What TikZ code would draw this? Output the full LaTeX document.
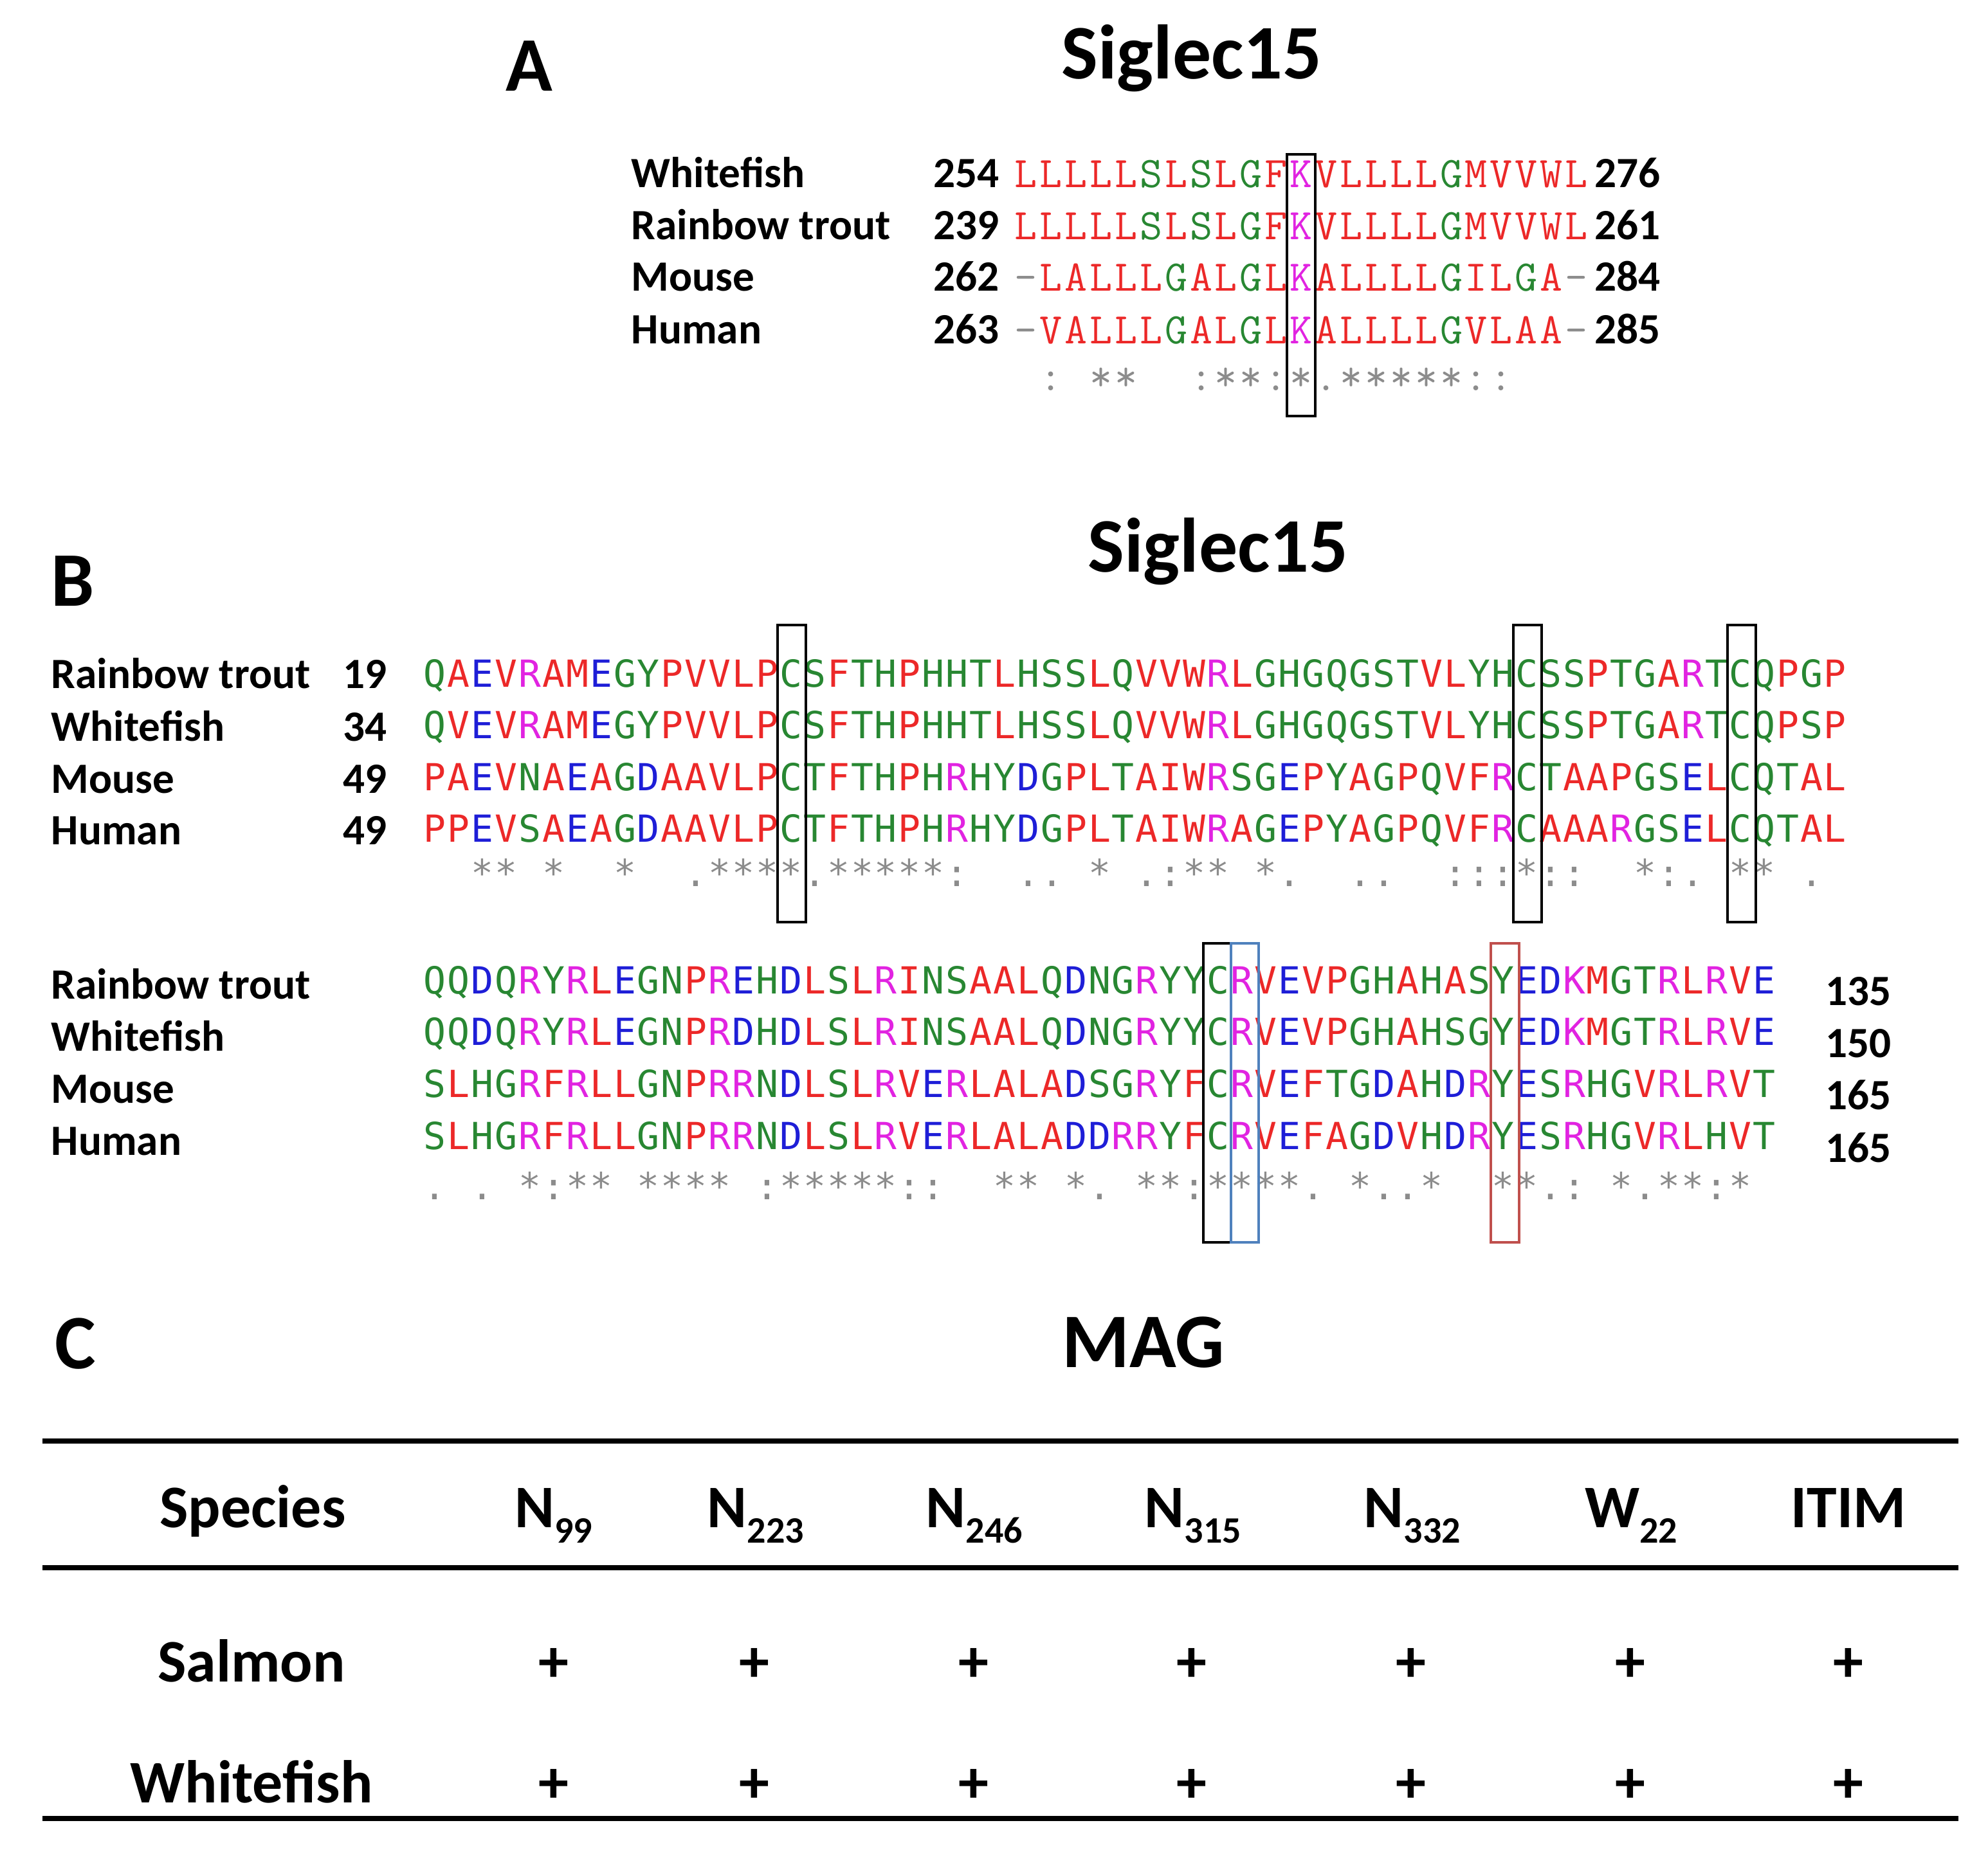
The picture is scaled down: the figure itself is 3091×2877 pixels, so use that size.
\documentclass[tikz,border=0pt]{standalone}
\usepackage{fontspec}
\setmainfont{Carlito}
\newfontfamily\monoB{DejaVu Sans Mono}
\usepackage{xcolor}

\definecolor{aared}{RGB}{236,40,40}
\definecolor{aablue}{RGB}{30,30,215}
\definecolor{aamag}{RGB}{225,35,225}
\definecolor{aagreen}{RGB}{40,135,50}
\definecolor{consgray}{RGB}{140,140,140}
\definecolor{boxblue}{RGB}{79,129,189}
\definecolor{boxred}{RGB}{192,80,77}
\colorlet{resA}{aared}\colorlet{resV}{aared}\colorlet{resF}{aared}\colorlet{resP}{aared}
\colorlet{resM}{aared}\colorlet{resI}{aared}\colorlet{resL}{aared}\colorlet{resW}{aared}
\colorlet{resD}{aablue}\colorlet{resE}{aablue}
\colorlet{resR}{aamag}\colorlet{resK}{aamag}
\colorlet{resS}{aagreen}\colorlet{resT}{aagreen}\colorlet{resY}{aagreen}\colorlet{resH}{aagreen}
\colorlet{resC}{aagreen}\colorlet{resN}{aagreen}\colorlet{resG}{aagreen}\colorlet{resQ}{aagreen}

\newlength\colw
\newcommand\res[1]{\makebox[\colw][c]{\if-#1\textcolor{consgray}{-}\else\textcolor{res#1}{#1}\fi}}
\def\seqloop#1{\ifx\relax#1\else\res{#1}\expandafter\seqloop\fi}
\newcommand\seqrow[1]{\expandafter\seqloop#1\relax}
\def\consloop#1{\ifx\relax#1\else\makebox[\colw][c]{\if_#1\else\textcolor{consgray}{#1}\fi}\expandafter\consloop\fi}
\newcommand\consrow[1]{\expandafter\consloop#1\relax}
\newcommand\subN[2]{#1\raisebox{-6pt}{\fontsize{14.5}{14.5}\selectfont#2}}

\tikzset{
  lab/.style={font=\fontsize{16.8}{20}\selectfont\bfseries, inner sep=0},
  seqA/.style={font=\ttfamily\fontsize{17}{19}\selectfont\setlength\colw{9.725pt}, inner sep=0, anchor=base west},
  seqB/.style={font=\monoB\fontsize{14.5}{17}\selectfont\setlength\colw{9.225pt}, inner sep=0, anchor=base west},
  ttl/.style={font=\fontsize{30}{36}\selectfont\bfseries, inner sep=0, anchor=base},
  tab/.style={font=\fontsize{23.5}{28}\selectfont\bfseries, inner sep=0, anchor=base},
  markbox/.style={line width=1pt},
  rule/.style={line width=1.9pt},
}

\begin{document}
\begin{tikzpicture}[x=0.25pt, y=-0.25pt]
\useasboundingbox (0,0) rectangle (3091,2877);

% panel A
\node[ttl, anchor=base west] (pA) at (786,142) {A};
\node[ttl] (ttlA) at (1853,123) {Siglec15};
\foreach \sp/\lab/\na/\nb/\sq/\y in {wf/Whitefish/254/276/LLLLLSLSLGFKVLLLLGMVVWL/292,
  rt/Rainbow trout/239/261/LLLLLSLSLGFKVLLLLGMVVWL/373,
  ms/Mouse/262/284/-LALLLGALGLKALLLLGILGA-/453,
  hu/Human/263/285/-VALLLGALGLKALLLLGVLAA-/535} {
 \node[lab, anchor=base west] (\sp A) at (981,\y) {\lab};
 \node[lab, anchor=base east] (\sp Anum) at (1554,\y) {\na};
 \node[seqA] (\sp Aseq) at (1575,\y) {\seqrow{\sq}};
 \node[lab, anchor=base west] (\sp Aend) at (2479,\y) {\nb};
}
\node[seqA] (consA) at (1575,608) {\consrow{_:_**__:**:*.*****::___}};
\draw[markbox] (2001,240) rectangle (2045,647);

% panel B
\node[ttl, anchor=base west] (pB) at (79,942) {B};
\node[ttl] (ttlB) at (1894,889) {Siglec15};
\foreach \sp/\lab/\na/\sq/\yl/\ys in {rt/Rainbow trout/19/QAEVRAMEGYPVVLPCSFTHPHHTLHSSLQVVWRLGHGQGSTVLYHCSSPTGARTCQPGP/1070/1068,
  wf/Whitefish/34/QVEVRAMEGYPVVLPCSFTHPHHTLHSSLQVVWRLGHGQGSTVLYHCSSPTGARTCQPSP/1152/1148,
  ms/Mouse/49/PAEVNAEAGDAAVLPCTFTHPHRHYDGPLTAIWRSGEPYAGPQVFRCTAAPGSELCQTAL/1233/1229,
  hu/Human/49/PPEVSAEAGDAAVLPCTFTHPHRHYDGPLTAIWRAGEPYAGPQVFRCAAARGSELCQTAL/1313/1309} {
 \node[lab, anchor=base west] (\sp B) at (79,\yl) {\lab};
 \node[lab, anchor=base east] (\sp Bnum) at (602,\yl) {\na};
 \node[seqB] (\sp Bseq) at (657,\ys) {\seqrow{\sq}};
}
\node[seqB] (consB) at (657,1378) {\consrow{__**_*__*__.****.*****:__.._*_.:**_*.__..__:::*::__*:._**_._}};
\foreach \x in {1231,2375,2708}
 \draw[markbox] (\x-22,972) rectangle (\x+22,1434);

\foreach \sp/\lab/\nb/\sq/\yl/\ys/\yn in {rt/Rainbow trout/135/QQDQRYRLEGNPREHDLSLRINSAALQDNGRYYCRVEVPGHAHASYEDKMGTRLRVE/1553/1545/1563,
  wf/Whitefish/150/QQDQRYRLEGNPRDHDLSLRINSAALQDNGRYYCRVEVPGHAHSGYEDKMGTRLRVE/1634/1625/1644,
  ms/Mouse/165/SLHGRFRLLGNPRRNDLSLRVERLALADSGRYFCRVEFTGDAHDRYESRHGVRLRVT/1715/1706/1725,
  hu/Human/165/SLHGRFRLLGNPRRNDLSLRVERLALADDRRYFCRVEFAGDVHDRYESRHGVRLHVT/1796/1787/1807} {
 \node[lab, anchor=base west] (\sp C) at (79,\yl) {\lab};
 \node[seqB] (\sp Cseq) at (657,\ys) {\seqrow{\sq}};
 \node[lab, anchor=base west] (\sp Cend) at (2838,\yn) {\nb};
}
\node[seqB] (consC) at (657,1865) {\consrow{._._*:**_****_:*****::__**_*._**:****._*..*__**.:_*.**:*_}};
\draw[markbox] (1871,1467) rectangle (1914,1932);
\draw[markbox, boxblue] (1914,1467) rectangle (1957,1932);
\draw[markbox, boxred] (2318,1467) rectangle (2362,1932);

% panel C
\node[ttl, anchor=base west] (pC) at (85,2128) {C};
\node[ttl] (ttlC) at (1778,2126) {MAG};
\draw[rule] (66,2241) -- (3045,2241);
\draw[rule] (66,2438) -- (3045,2438);
\draw[rule] (66,2828) -- (3045,2828);
\node[tab] (hdsp) at (393,2375) {Species};
\foreach \h/\x [count=\i] in {{\subN{N}{99}}/861, {\subN{N}{223}}/1175, {\subN{N}{246}}/1515,
  {\subN{N}{315}}/1855, {\subN{N}{332}}/2196, {\subN{W}{22}}/2536, {ITIM}/2874}
 \node[tab] (hd\i) at (\x,2375) {\h};
\node[tab] (salmon) at (391,2615) {Salmon};
\node[tab] (whitefish) at (391,2803) {Whitefish};
\foreach \x [count=\i] in {861,1173,1514,1853,2194,2535,2874} {
 \node[tab] (pS\i) at (\x,2615) {+};
 \node[tab] (pW\i) at (\x,2803) {+};
}
\end{tikzpicture}
\end{document}
